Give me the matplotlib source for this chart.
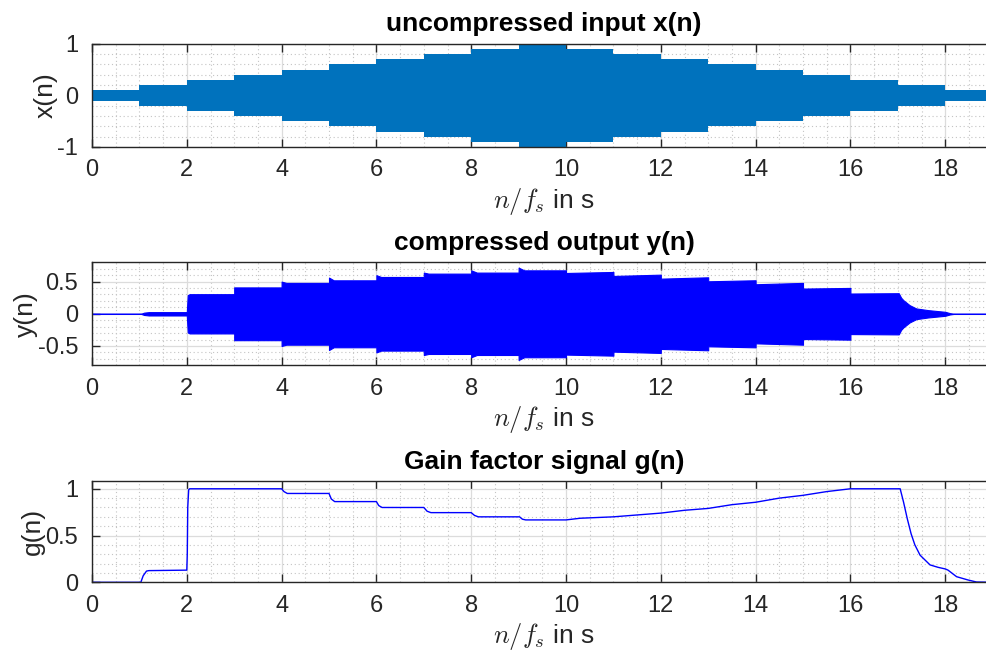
import matplotlib
matplotlib.use("Agg")
import matplotlib.pyplot as plt
import numpy as np
from matplotlib.ticker import MultipleLocator, FormatStrFormatter

# --- data ---
# input envelope: amplitude per 1 s segment (step function)
x_t = [0, 1, 2, 3, 4, 5, 6, 7, 8, 9, 10, 11, 12, 13, 14, 15, 16, 17, 18, 19.1]
x_amp = [0.1, 0.2, 0.3, 0.4, 0.5, 0.6, 0.7, 0.8, 0.9, 1.0,
         0.9, 0.8, 0.7, 0.6, 0.5, 0.4, 0.3, 0.2, 0.1, 0.1]

# output envelope y(n)
y_t = [0, 1.03, 1.1, 1.2, 2.0, 2.02, 2.06, 3.0, 3.0, 4.0, 4.0, 4.1, 5.0, 5.0, 5.1,
       6.0, 6.0, 6.1, 7.0, 7.0, 7.1, 8.0, 8.0, 8.12, 9.0, 9.0, 9.12, 10.0, 10.0,
       11.0, 11.0, 12.0, 12.0, 13.0, 13.0, 14.0, 14.0, 15.0, 15.0, 16.0, 16.0,
       17.02, 17.07, 17.12, 17.25, 17.39, 17.64, 18.0, 18.1, 18.2, 19.1]
y_amp = [0, 0, 0.018, 0.026, 0.026, 0.29, 0.305, 0.305, 0.41, 0.41, 0.50, 0.48,
         0.48, 0.563, 0.52, 0.52, 0.60, 0.572, 0.572, 0.64, 0.624, 0.624, 0.675,
         0.64, 0.64, 0.717, 0.675, 0.675, 0.634, 0.65, 0.588, 0.608, 0.546, 0.567,
         0.505, 0.521, 0.459, 0.48, 0.392, 0.402, 0.315, 0.32, 0.25, 0.21, 0.134,
         0.083, 0.057, 0.031, 0.01, 0.0, 0.0]

# gain factor g(n)
g_t = [0, 1.03, 1.08, 1.15, 1.2, 2.0, 2.01, 2.02, 2.04, 2.06, 4.0, 4.05, 4.12,
       5.0, 5.05, 5.12, 6.0, 6.05, 6.12, 7.0, 7.07, 7.15, 8.0, 8.07, 8.15, 9.02,
       9.08, 9.15, 10.0, 10.3, 11.0, 11.5, 12.0, 12.5, 13.0, 13.5, 14.0, 14.5,
       15.0, 15.5, 16.0, 17.05, 17.12, 17.2, 17.28, 17.36, 17.47, 17.68, 17.85,
       18.0, 18.06, 18.24, 18.48, 18.66, 19.1]
g = [0, 0, 0.07, 0.12, 0.125, 0.13, 0.3, 0.8, 0.99, 1.0, 1.0, 0.97, 0.95,
     0.95, 0.89, 0.863, 0.863, 0.82, 0.80, 0.80, 0.76, 0.745, 0.745, 0.715, 0.70,
     0.70, 0.675, 0.667, 0.667, 0.685, 0.70, 0.72, 0.74, 0.77, 0.79, 0.83, 0.856,
     0.9, 0.93, 0.97, 1.0, 1.0, 0.86, 0.68, 0.52, 0.40, 0.29, 0.186, 0.16,
     0.143, 0.13, 0.06, 0.025, 0.003, 0.0]

plt.rcParams['font.family'] = ['Liberation Sans', 'DejaVu Sans']
plt.rcParams['mathtext.fontset'] = 'cm'
plt.rcParams['axes.unicode_minus'] = False

AX_COL = '#262626'
W, H = 986, 655
fig = plt.figure(figsize=(W / 100, H / 100), dpi=100)

LEFT, RIGHT = 92, 996

def add_ax(top, bottom):
    return fig.add_axes([LEFT / W, 1 - bottom / H, (RIGHT - LEFT) / W, (bottom - top) / H])

def style(ax, ylim, ymaj, ymin, title, ylabel):
    ax.set_xlim(0, (RIGHT - LEFT) / 47.4)
    ax.set_ylim(*ylim)
    ax.xaxis.set_major_locator(MultipleLocator(2))
    ax.xaxis.set_minor_locator(MultipleLocator(0.5))
    ax.yaxis.set_major_locator(MultipleLocator(ymaj))
    ax.yaxis.set_minor_locator(MultipleLocator(ymin))
    ax.yaxis.set_major_formatter(FormatStrFormatter('%g'))
    ax.grid(True, which='major', color='#dcdcdc', lw=0.9, ls='-')
    ax.grid(True, which='minor', color='#c4c4c4', lw=0.8, ls=(0, (1, 2.5)))
    ax.set_axisbelow(True)
    ax.tick_params(which='major', direction='in', length=6, width=1, colors=AX_COL,
                   top=True, right=True, labelsize=17)
    ax.tick_params(axis='x', which='major', pad=9)
    ax.tick_params(axis='y', which='major', pad=10)
    ax.tick_params(which='minor', length=0)
    for s in ax.spines.values():
        s.set_color(AX_COL)
        s.set_linewidth(1)
    ax.set_title(title, fontsize=19, fontweight='bold', pad=9)
    ax.set_ylabel(ylabel, fontsize=19, color=AX_COL, labelpad=0)
    ax.set_xlabel(r'$n/f_s$ in s', fontsize=19, color=AX_COL, labelpad=3)

ax1 = add_ax(43.7, 147)
ax1.fill_between(x_t, -np.array(x_amp), x_amp, step='post', color='#0072BD', lw=0)
style(ax1, (-1, 1), 1, 0.2, 'uncompressed input x(n)', 'x(n)')

ax2 = add_ax(262.3, 365.3)
ax2.fill_between(y_t, -np.array(y_amp), y_amp, color='#0000FF', edgecolor='#0000FF', lw=0.8)
style(ax2, (-0.8, 0.8), 0.5, 0.1, 'compressed output y(n)', 'y(n)')

ax3 = add_ax(481.3, 582.3)
ax3.plot(g_t, g, color='#0000FF', lw=1.0)
style(ax3, (0, 1.08), 0.5, 0.1, 'Gain factor signal g(n)', 'g(n)')

fig.savefig('out.png', dpi=100)
